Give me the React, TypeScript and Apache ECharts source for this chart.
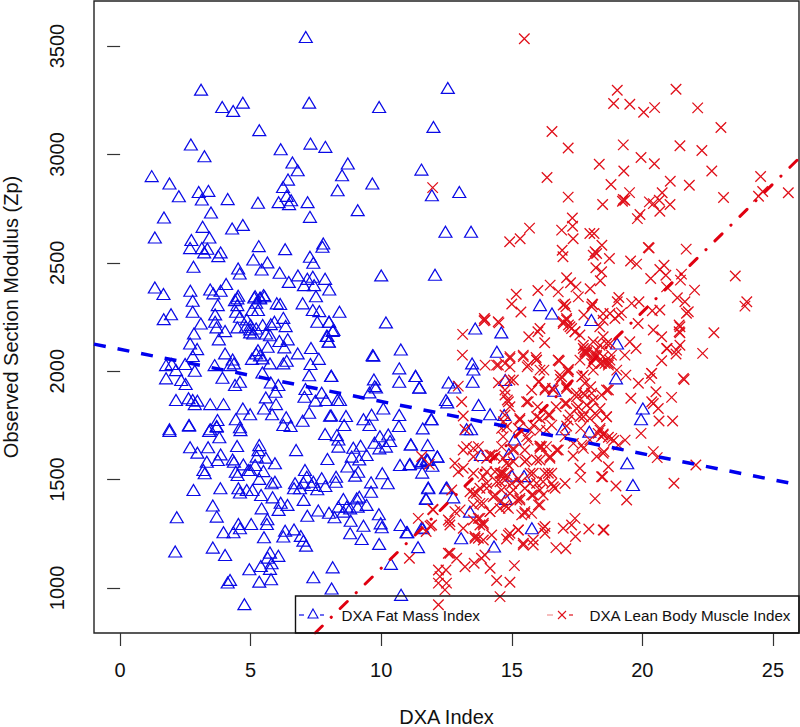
import React, { useEffect, useRef } from "react";
import * as echarts from "echarts";

const FAT_NAME = "DXA Fat Mass Index";
const LEAN_NAME = "DXA Lean Body Muscle Index";
const xTicks = [0, 5, 10, 15, 20, 25];
const yTicks = [1000, 1500, 2000, 2500, 3000, 3500];
const fatFit = [[-1, 2125], [26, 1475]];
const leanFit = [[7.47, 792], [26, 2982]];

const fatPoints = [
[7.11,3542],[3.10,3299],[3.91,3219],[4.70,3239],[4.33,3201],[7.24,3239],[9.92,3219],[12.0,3127],[12.55,3307],[5.33,3112],
[2.71,3046],[3.23,2992],[6.15,3024],[7.29,3050],[7.86,3035],[6.60,2963],[6.80,2927],[8.72,2958],[8.50,2904],[11.54,2930],
[1.21,2900],[1.89,2866],[2.25,2807],[3.01,2827],[3.38,2832],[3.13,2792],[4.12,2794],[6.43,2884],[6.24,2850],[6.38,2809],
[6.55,2789],[6.07,2780],[6.47,2771],[5.28,2777],[7.18,2780],[8.33,2835],[9.66,2866],[11.94,2812],[9.10,2743],[7.27,2712],
[1.68,2709],[3.48,2732],[3.16,2666],[4.70,2675],[4.29,2658],[1.33,2617],[2.73,2605],[3.42,2617],[2.68,2568],[3.13,2568],
[3.34,2565],[3.22,2548],[3.85,2548],[3.76,2531],[5.31,2577],[6.32,2563],[7.78,2589],[7.75,2574],[7.27,2528],[7.40,2500],
[12.46,2643],[5.10,2515],[5.64,2502],[2.81,2482],[4.52,2474],[4.58,2451],[5.42,2469],[6.11,2454],[6.81,2442],[6.46,2412],
[7.17,2426],[7.38,2436],[7.04,2397],[7.43,2397],[7.85,2426],[8.01,2377],[10.0,2442],[12.06,2445],[1.33,2386],[1.66,2356],
[2.69,2371],[3.45,2377],[3.57,2359],[3.85,2371],[4.06,2402],[4.52,2348],[5.17,2346],[5.49,2351],[5.36,2340],[7.50,2346],
[2.78,2325],[1.67,2240],[1.95,2263],[3.74,2305],[2.78,2274],[3.64,2262],[3.64,2228],[3.09,2220],[3.69,2202],[4.02,2185],
[2.83,2174],[3.78,2147],[2.68,2128],[2.95,2102],[2.78,2070],[4.49,2336],[4.40,2328],[4.49,2305],[4.44,2274],[4.59,2251],
[4.85,2239],[4.49,2202],[4.82,2205],[5.0,2213],[5.05,2282],[5.28,2282],[5.14,2340],[5.21,2316],[5.53,2346],[5.36,2336],
[4.98,2193],[5.21,2197],[4.98,2179],[5.10,2174],[5.46,2213],[5.91,2228],[5.77,2217],[6.0,2313],[6.13,2310],[6.99,2313],
[7.38,2282],[7.63,2277],[6.25,2246],[6.34,2208],[7.55,2228],[8.0,2228],[8.17,2190],[7.91,2163],[7.99,2137],[5.74,2166],
[5.59,2174],[5.65,2113],[6.10,2139],[6.42,2147],[6.29,2110],[6.80,2082],[7.31,2107],[7.61,2057],[7.29,2033],[7.24,1981],
[8.08,1978],[4.02,2082],[4.31,2054],[4.36,2036],[4.21,2028],[3.62,2028],[5.28,2097],[5.21,2082],[5.36,2073],[5.05,2057],
[5.46,2059],[5.74,2036],[6.25,2036],[6.38,2048],[1.76,2028],[1.98,2033],[2.49,2033],[2.14,2005],[2.86,2002],[1.76,1967],
[2.34,1959],[2.51,1941],[3.92,1970],[5.45,1994],[4.40,1936],[4.59,1951],[5.77,1948],[6.06,1936],[7.10,1918],[7.72,1901],
[5.58,1879],[5.95,1905],[7.06,1882],[7.48,1864],[7.89,1867],[8.32,1867],[5.97,1848],[5.51,1828],[7.24,1808],[8.08,1796],
[2.14,1867],[2.62,1875],[2.78,1867],[2.96,1864],[2.86,1848],[3.45,1848],[3.96,1848],[4.70,1828],[4.98,1801],[5.82,1801],
[4.43,1778],[6.36,1787],[6.99,1771],[3.73,1775],[2.64,1752],[1.89,1732],[3.70,1747],[3.45,1732],[6.25,1752],[6.53,1747],
[4.59,1741],[8.40,2274],[8.0,2228],[8.14,2186],[7.94,2162],[7.99,2136],[10.18,2225],[10.75,2100],[9.67,2074],[9.70,2071],
[10.69,2013],[11.32,1978],[10.69,1951],[11.46,1925],[9.72,1962],[9.75,1931],[9.80,1925],[9.55,1902],[8.42,1867],[8.09,1979],
[10.08,1828],[9.63,1799],[10.69,1798],[11.93,1778],[8.65,1793],[8.04,1795],[9.32,1778],[8.58,1752],[9.55,1752],[10.68,1747],
[11.59,1736],[7.85,1710],[8.30,1705],[8.36,1685],[8.36,1652],[9.95,1700],[10.27,1708],[9.74,1670],[10.18,1652],[9.93,1644],
[10.34,1678],[11.13,1662],[11.78,1659],[8.93,1647],[9.21,1656],[8.87,1606],[9.44,1613],[9.16,1593],[12.15,1606],[11.55,1585],
[11.78,1590],[10.72,1567],[11.1,1572],[7.94,1595],[8.70,1560],[10.04,1529],[11.57,1532],[9.12,1536],[9.0,1518],[9.61,1487],
[10.25,1483],[11.80,1460],[12.48,1460],[9.61,1444],[11.71,1413],[8.27,1513],[8.26,1490],[7.72,1506],[7.86,1470],[7.55,1455],
[7.40,1490],[7.33,1475],[7.08,1544],[7.15,1513],[7.02,1486],[6.70,1483],[6.66,1460],[6.89,1460],[5.93,1490],[5.80,1483],
[6.74,1636],[5.93,1575],[7.03,1406],[8.55,1410],[9.06,1413],[9.16,1421],[8.36,1375],[8.68,1375],[8.55,1352],[8.81,1367],
[9.10,1375],[9.44,1383],[7.59,1357],[8.0,1347],[8.21,1326],[7.17,1333],[9.91,1340],[8.83,1310],[9.32,1287],[9.98,1298],
[10.02,1280],[10.74,1290],[10.97,1257],[11.55,1278],[8.81,1252],[9.25,1226],[9.92,1203],[11.41,1188],[10.37,1111],[8.14,1095],
[7.40,1049],[8.10,997],[10.76,968],[6.66,1270],[6.32,1264],[6.25,1237],[6.92,1240],[7.02,1218],[7.12,1195],[6.15,1393],
[6.41,1383],[6.07,1360],[5.42,1367],[5.64,1317],[5.62,1295],[5.02,1295],[4.53,1295],[4.59,1275],[4.34,1257],[3.96,1257],
[5.51,1234],[6.06,1148],[5.74,1163],[5.65,1140],[5.80,1114],[5.39,1101],[5.74,1088],[4.95,1086],[5.33,1029],[5.78,1040],
[4.21,1037],[4.12,1025],[4.76,925],[2.11,1168],[3.55,1186],[4.02,1152],[2.17,1326],[3.70,1329],[3.55,1380],[2.81,1452],
[3.84,1460],[4.53,1460],[4.59,1440],[4.85,1452],[5.07,1452],[5.40,1429],[5.84,1418],[3.19,1544],[3.24,1529],[3.32,1582],
[3.74,1590],[3.85,1616],[4.31,1593],[4.36,1582],[2.96,1624],[2.68,1649],[3.37,1649],[4.48,1655],[1.89,1724],[2.64,1748],
[3.41,1724],[3.70,1744],[3.80,1695],[4.61,1728],[5.33,1659],[5.30,1636],[5.23,1606],[5.58,1601],[4.72,1570],[5.17,1567],
[4.43,1536],[4.50,1521],[4.91,1544],[4.98,1544],[5.49,1539],[5.33,1503],
[16.54,2266],[18.05,2236],[13.60,2197],[14.60,2179],[14.43,2090],[19.03,2128],[13.48,2036],[13.53,2008],[18.99,1967],[14.75,1959],
[13.50,1951],[16.63,1910],[12.58,1948],[12.80,1925],[11.31,1978],[11.46,1924],[12.48,1867],[12.53,1856],[13.73,1844],[14.17,1801],
[14.71,1798],[11.91,1778],[20.02,1828],[19.95,1778],[16.95,1732],[17.97,1721],[15.10,1685],[13.27,1732],[13.44,1732],[11.14,1662],
[12.15,1606],[11.08,1570],[11.55,1578],[11.74,1593],[11.96,1564],[19.42,1575],[19.64,1475],[14.89,1618],[13.82,1613],[15.01,1518],
[15.47,1516],[14.78,1410],[11.80,1463],[12.51,1463],[11.72,1410],[12.76,1418],[13.40,1352],[15.77,1275],[11.59,1275],[11.0,1257],
[13.06,1229],[14.32,1191],[16.08,2305],[12.99,2827],[13.44,2643],
];

const leanPoints = [
[15.48,3534],[19.04,3296],[21.29,3301],[18.90,3235],[19.52,3232],[20.05,3195],[20.47,3216],[22.12,3215],[16.54,3106],[23.01,3124],
[17.16,3030],[19.27,3044],[21.44,3040],[22.28,3018],[19.95,2986],[20.46,2957],[18.35,2955],[19.29,2924],[22.66,2924],[16.35,2894],
[21.07,2876],[24.53,2898],[21.80,2858],[18.8,2861],[19.51,2824],[24.61,2829],[24.45,2807],[25.59,2823],[23.11,2801],[17.16,2803],
[19.27,2792],[19.33,2789],[19.24,2784],[18.48,2769],[20.76,2823],[20.27,2781],[20.42,2773],[20.65,2789],[21.06,2769],[20.67,2738],
[19.91,2723],[19.81,2704],[17.32,2707],[17.33,2669],[15.68,2660],[16.91,2651],[15.32,2611],[14.92,2597],[17.35,2611],[17.99,2635],
[18.15,2635],[18.45,2581],[16.93,2558],[16.96,2528],[18.19,2551],[18.25,2543],[18.12,2535],[20.23,2571],[20.26,2568],[21.68,2563],[18.74,2520],
[19.55,2508],[19.78,2494],[18.22,2477],[18.44,2459],[18.39,2417],[20.83,2489],[20.67,2469],[20.90,2443],[20.32,2428],[21.5,2448],
[21.46,2420],[20.93,2389],[23.56,2439],[22.0,2374],[17.1,2431],[17.25,2408],[17.46,2389],[16.47,2397],[16.78,2366],[16.0,2372],
[17.55,2343],[18.0,2380],[15.17,2355],[15.0,2310],[15.35,2273],[16.97,2305],[17.03,2310],[18.08,2310],[19.10,2340],[19.04,2320],
[19.59,2313],[19.87,2320],[21.34,2339],[21.63,2320],[21.76,2274],[24.0,2320],[23.93,2300],[20.38,2279],[20.67,2282],[19.2,2270],
[18.76,2266],[17.76,2259],[13.95,2243],[14.48,2228],[11.97,2847],
[19.1,2258],[18.95,2243],[19.84,2220],[20.42,2190],[20.74,2159],[21.44,2205],[21.44,2177],[22.74,2177],[19.52,2136],[19.76,2105],
[20.95,2105],[21.44,2120],[21.29,2079],[20.74,2048],[22.31,2082],[20.36,1990],[21.57,1967],[18.5,2266],[18.06,2297],[18.1,2308],
[17.07,2297],[17.1,2236],[17.23,2205],[17.42,2182],[16.97,2220],[17.61,2167],[17.74,2120],[17.8,2090],[18.12,2074],[16.78,2051],
[18.5,2159],[18.12,2136],[18.82,2074],[19.33,2074],[18.38,2036],[18.7,2036],[19.02,2005],[17.16,2005],[17.74,1982],[16.84,1982],[19.37,1982],
[21.69,2267],[21.41,2213],[21.41,2182],[20.93,2105],[21.31,2097],[20.35,1990],[20.29,1967],[21.6,1962],[19.85,1944],[20.52,1905],
[21.12,1879],[19.56,1875],[20.42,1851],[20.61,1828],[20.64,1770],[21.16,1770],[20.36,1859],[19.95,1713],[20.42,1629],[20.57,1601],
[19.34,1682],[18.83,1690],[19.08,1659],[18.63,1790],[18.38,1728],[18.5,1710],[18.7,1695],[18.9,1680],[18.53,1629],[18.25,1606],
[18.7,1559],[18.44,1513],[18.99,1470],[19.4,1406],[18.53,1267],[18.7,1913],[18.76,2128],[18.5,2067],[18.7,2028],[18.38,2120],
[17.87,2090],[17.74,2105],[18.25,2074],[17.8,2082],[21.21,1483],[22.05,1567],
[13.94,2233],[13.98,2236],[14.51,2223],[13.12,2170],[15.65,2159],[16.08,2197],[16.0,2182],[16.26,2131],[16.97,2228],[17.17,2213],
[17.29,2197],[17.42,2182],[17.1,2243],[17.8,2097],[17.87,2082],[18.19,2074],[18.5,2235],[18.37,2205],[18.63,2128],[18.57,2036],
[18.25,2097],[18.76,2051],[13.11,2074],[13.98,2028],[14.49,2028],[14.93,2059],[14.93,2020],[15.44,2074],[15.59,2020],[15.95,2051],
[15.93,2063],[16.23,2005],[16.82,2047],[17.17,2008],[16.87,1963],[17.61,2051],[18.44,2036],[17.68,1974],[18.12,2005],[14.93,1959],
[15.06,1959],[14.49,1947],[12.95,1931],[14.74,1913],[14.83,1867],[14.93,1836],[16.05,1951],[15.76,1913],[16.56,1920],[16.27,1913],
[17.1,1920],[18.02,1928],[18.44,1890],[17.48,1898],[17.8,1890],[18.12,1867],[15.57,1859],[13.08,1859],[15.99,1836],[17.1,1851],
[17.48,1828],[18.0,1828],[17.74,1790],[18.25,1798],[18.63,1790],[17.23,1798],[16.7,1836],[16.4,1798],[15.95,1790],[15.31,1782],
[13.14,1793],[14.74,1798],[14.68,1767],[14.81,1744],[14.61,1736],[15.25,1736],[13.21,1731],[15.7,1728],[16.08,1728],[16.53,1751],
[17.1,1747],[17.64,1736],[18.31,1713],[18.5,1705],[15.63,1682],[16.08,1655],[17.04,1698],[17.68,1659],[13.27,1652],[13.72,1652],
[13.14,1636],[13.53,1644],[14.23,1613],[14.04,1598],[16.08,1644],[16.33,1652],[16.72,1636],[15.95,1590],[16.46,1598],[15.5,1582],
[15.06,1582],[17.35,1609],[18.5,1621],[17.74,1644],[12.82,1575],[13.14,1552],[12.95,1536],[17.61,1552],[17.64,1510],[18.48,1513],
[18.19,1412],[17.04,1482],[16.53,1482],[16.27,1529],[16.66,1460],[16.08,1452],[15.7,1482],[15.25,1505],[15.7,1529],[14.61,1529],
[14.04,1536],[14.74,1498],[13.78,1460],[14.36,1429],[13.4,1444],[14.42,1490],[14.93,1436],[15.31,1413],[15.82,1429],[16.2,1429],
[16.02,1383],[14.74,1383],[14.55,1398],[14.87,1367],[15.5,1352],[15.76,1344],[15.38,1337],[14.17,1352],[13.78,1390],[13.02,1360],
[13.53,1313],[12.63,1306],[13.91,1298],[13.14,1275],[11.99,1360],[11.93,1290],[17.42,1321],[17.29,1290],[16.97,1275],[17.95,1272],
[18.5,1267],[17.44,1237],[16.27,1283],[16.27,1252],[15.25,1267],[14.93,1252],[14.8,1226],[14.23,1244],[13.72,1229],[13.59,1237],
[15.44,1198],[15.82,1198],[16.69,1186],[17.07,1181],[12.63,1160],[12.89,1137],[13.97,1152],[13.84,1137],[13.56,1114],[13.21,1098],
[15.1,1103],[14.17,1091],[12.19,1083],[12.48,1083],[12.25,1052],[12.19,1022],[12.5,1022],[12.44,991],[14.42,1034],[14.93,1026],
[14.55,960],[12.19,922],[12.7,1452],[12.82,1352],[12.63,1290],[13.72,1321],[13.78,1290],[14.61,1452],[15.2,1406],[15.5,1460],
[16.2,1490],[16.53,1529],[13.53,1383],[14.04,1460],[15.0,1482],[14.36,1536],[13.53,1605],[14.8,1575],[15.5,1636],[14.61,1652],[15.06,1644],
[11.55,1606],[11.84,1570],[11.42,1321],[11.97,1363],[11.87,1286],[11.72,1260],[11.08,1137],[12.57,1313],[12.57,1160],
[14.16,1613],[14.36,1606],[14.87,1567],[14.68,1529],[13.91,1513],[13.53,1529],[14.55,1490],[14.04,1483],[13.65,1437],[14.29,1421],
[14.8,1375],[14.55,1367],[13.91,1390],[14.16,1352],[13.78,1321],[15.31,1483],[15.82,1529],[16.08,1590],[15.57,1590],[16.4,1529],
[16.59,1467],[15.76,1429],[15.31,1406],[15.95,1483],[15.5,1344],[16.08,1383],[15.06,1452],[14.8,1521],[14.55,1529],[16.46,1606],
[16.78,1636],[16.14,1652],[15.25,1267],[14.87,1244],[15.44,1206],[15.82,1221],[16.2,1275],[13.91,1290],[13.59,1229],[13.91,1221],
[14.68,1598],[15.06,1636],[13.53,1436],
[14.93,2067],[14.74,2036],[14.42,2028],[15.44,2067],[15.63,2028],[15.95,2051],[16.08,2005],[16.78,2051],[17.16,1997],[16.91,1974],
[16.02,1951],[16.28,1921],[17.1,1928],[17.8,1944],[18.06,1898],[17.74,1898],[17.48,1882],[15.63,1859],[14.74,1890],[14.87,1859],
[17.04,1851],[16.59,1913],[17.55,1836],[17.87,1844],[16.46,1798],[16.08,1782],[15.31,1775],[17.16,1775],[17.61,1790],[17.99,1782],
[18.38,1828],[18.63,1913],[16.33,1728],[15.82,1751],[14.67,1698],[15.57,1698],[16.08,1652],[17.99,1683],[17.36,1667],[18.38,1736],
[18.44,1698],[18.63,2051],[18.25,2067],[18.06,2036],
];

const FONT = '"Liberation Sans", Arial, Helvetica, sans-serif';
const BLUE = "#0a0ae6";
const RED = "#e0101a";
const XPATH = "path://M0 0L10 10M10 0L0 10";

export default function App() {
  const ref = useRef<HTMLDivElement>(null);
  useEffect(() => {
    const chart = echarts.init(ref.current!, undefined, { renderer: "svg" });
    const legendText = (text: string, x: number) => ({
      type: "text", silent: true, z: 20,
      style: { text, x, y: 615, font: `15.2px ${FONT}`, fill: "#111", verticalAlign: "middle" },
    });
    const legendDash = (x1: number, x2: number, stroke: string) => ({
      type: "line", silent: true, z: 20,
      shape: { x1, y1: 615, x2, y2: 615 },
      style: { stroke, lineWidth: 1.2 },
    });
    const plain = (v: number) => String(v);
    chart.setOption({
      animation: false,
      backgroundColor: "#fff",
      grid: { left: 94, top: 1, right: 1, bottom: 94, outerBoundsMode: "none", containLabel: false, show: true, borderColor: "#222", borderWidth: 1.4, backgroundColor: "transparent" },
      xAxis: {
        type: "value", min: -1, max: 26, name: "DXA Index", nameLocation: "middle", nameGap: 76,
        nameTextStyle: { fontFamily: FONT, fontSize: 20, lineHeight: 16, color: "#111" },
        splitLine: { show: false },
        axisLine: { show: false },
        axisTick: { show: true, length: 13, customValues: xTicks, lineStyle: { color: "#333", width: 1.2 } },
        axisLabel: { show: true, customValues: xTicks, formatter: plain, margin: 27, fontFamily: FONT, fontSize: 20, color: "#111" },
      },
      yAxis: {
        type: "value", min: 792, max: 3708, name: "Observed Section Modulus (Zp)", nameLocation: "middle", nameGap: 73,
        nameTextStyle: { fontFamily: FONT, fontSize: 20, color: "#111" },
        splitLine: { show: false },
        axisLine: { show: false },
        axisTick: { show: true, length: 13, customValues: yTicks, lineStyle: { color: "#333", width: 1.2 } },
        axisLabel: { show: true, customValues: yTicks, formatter: plain, rotate: 90, margin: 37, fontFamily: FONT, fontSize: 20, color: "#111", align: "center", verticalAlign: "middle" },
      },
      series: [
        { name: FAT_NAME, type: "scatter", data: fatPoints, symbol: "triangle", symbolSize: [13, 11],
          itemStyle: { color: "transparent", borderColor: BLUE, borderWidth: 1.2, opacity: 1 }, z: 2 },
        { name: LEAN_NAME, type: "scatter", data: leanPoints, symbol: XPATH, symbolSize: 10.5,
          itemStyle: { color: "transparent", borderColor: RED, borderWidth: 1.3, opacity: 1 }, z: 3 },
        { name: "Fat fit", type: "line", data: fatFit, showSymbol: false, symbol: "none", clip: true, z: 4,
          lineStyle: { color: "#0000ee", width: 3.5, type: [12, 12] } },
        { name: "Lean fit", type: "line", data: leanFit, showSymbol: false, symbol: "none", clip: true, z: 4,
          lineStyle: { color: "#e00010", width: 3, type: [10, 12.4, 0.2, 12.4], cap: "round" } },
      ],
      graphic: [
        { type: "rect", silent: true, z: 19, shape: { x: 295.5, y: 596, width: 503.5, height: 37 }, style: { fill: "none", stroke: "#111", lineWidth: 1.4 } },
        legendDash(299, 304, BLUE),
        { type: "polygon", silent: true, z: 20, shape: { points: [[313, 609], [318, 618], [308, 618]] }, style: { fill: "none", stroke: BLUE, lineWidth: 1.1 } },
        legendDash(320, 324, BLUE),
        legendText(FAT_NAME, 341.5),
        legendDash(547, 553, "#f09090"),
        { type: "line", silent: true, z: 20, shape: { x1: 558, y1: 611, x2: 566, y2: 619 }, style: { stroke: RED, lineWidth: 1.1 } },
        { type: "line", silent: true, z: 20, shape: { x1: 566, y1: 611, x2: 558, y2: 619 }, style: { stroke: RED, lineWidth: 1.1 } },
        legendDash(569, 573, RED),
        legendText(LEAN_NAME, 589.5),
      ],
    });
    return () => chart.dispose();
  }, []);
  return <div ref={ref} style={{ position: "absolute", left: 0, top: 0, width: 800, height: 727 }} />;
}
